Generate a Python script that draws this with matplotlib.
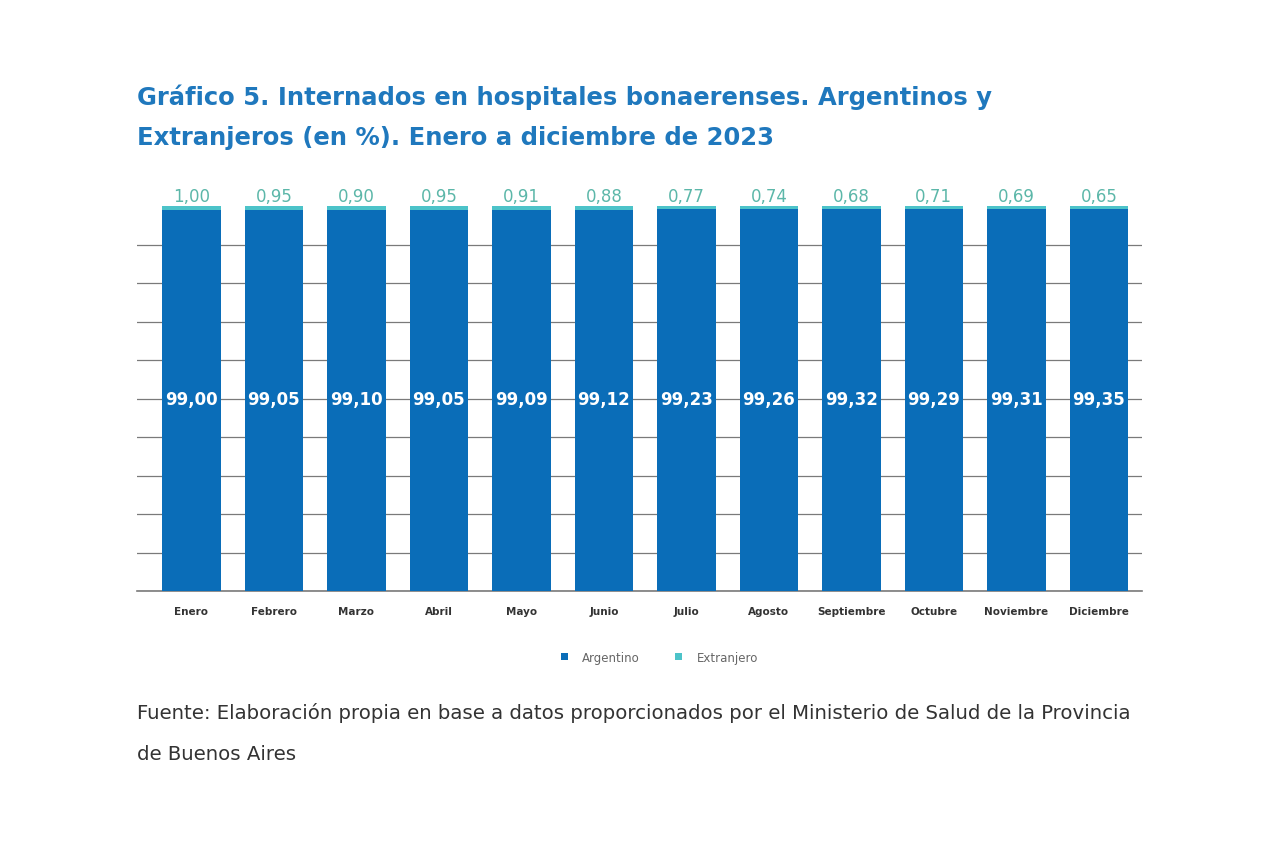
import matplotlib.pyplot as plt
import numpy as np

# Data
months = ["Enero", "Febrero", "Marzo", "Abril", "Mayo", "Junio", "Julio",
          "Agosto", "Septiembre", "Octubre", "Noviembre", "Diciembre"]
argentino = [99.00, 99.05, 99.10, 99.05, 99.09, 99.12, 99.23,
             99.26, 99.32, 99.29, 99.31, 99.35]
extranjero = [1.00, 0.95, 0.90, 0.95, 0.91, 0.88, 0.77,
              0.74, 0.68, 0.71, 0.69, 0.65]

blue = "#0a6db8"
teal = "#4cc3c9"
label_teal = "#5cb7a9"
title_blue = "#1f78bd"

plt.rcParams['font.family'] = ['DejaVu Sans']

fig = plt.figure(figsize=(12.8, 8.53), dpi=100)
# axes spans x 137..1142 px, y 592 (0) .. ~207 (100)
ax = fig.add_axes([0.107, 0.306, 0.785, 0.451])

x = np.arange(len(months))
ax.bar(x, argentino, width=0.71, color=blue, label="Argentino", zorder=3)
ax.bar(x, extranjero, width=0.71, bottom=argentino, color=teal,
       label="Extranjero", zorder=3)

# value labels
for i in range(len(months)):
    ax.text(x[i], 50, f"{argentino[i]:.2f}".replace(".", ","), ha="center",
            va="center", color="white", fontsize=12, fontweight="bold", zorder=4)
    ax.text(x[i], 100.4, f"{extranjero[i]:.2f}".replace(".", ","), ha="center",
            va="bottom", color=label_teal, fontsize=12, fontweight="medium")

ax.set_xlim(-0.66, len(months) - 0.48)
ax.set_ylim(0, 100)
ax.set_yticks(np.arange(0, 91, 10))
ax.yaxis.grid(True, color="#7a7a7a", linewidth=0.9, zorder=0)
ax.tick_params(axis="y", left=False, labelleft=False)
ax.tick_params(axis="x", bottom=False, pad=7)
ax.set_xticks(x)
ax.set_xticklabels(months, fontsize=7.5, fontweight="bold", color="#333333")
for side in ["top", "right", "left"]:
    ax.spines[side].set_visible(False)
ax.spines["bottom"].set_color("#7a7a7a")
ax.spines["bottom"].set_linewidth(1.2)

ax.legend(loc="upper center", bbox_to_anchor=(0.52, -0.128), ncol=2,
          frameon=False, fontsize=8.5, handlelength=0.6, handleheight=0.6,
          handletextpad=1.2, columnspacing=3.0, labelcolor="#666666")

# title and source
fig.text(0.107, 0.886, "Gráfico 5. Internados en hospitales bonaerenses. Argentinos y",
         fontsize=17.5, fontweight="bold", color=title_blue, va="center")
fig.text(0.107, 0.838, "Extranjeros (en %). Enero a diciembre de 2023",
         fontsize=17.5, fontweight="bold", color=title_blue, va="center")
fig.text(0.107, 0.164, "Fuente: Elaboración propia en base a datos proporcionados por el Ministerio de Salud de la Provincia",
         fontsize=14.2, color="#333333", va="center")
fig.text(0.107, 0.115, "de Buenos Aires",
         fontsize=14.2, color="#333333", va="center")

plt.savefig("out.png", dpi=100)
